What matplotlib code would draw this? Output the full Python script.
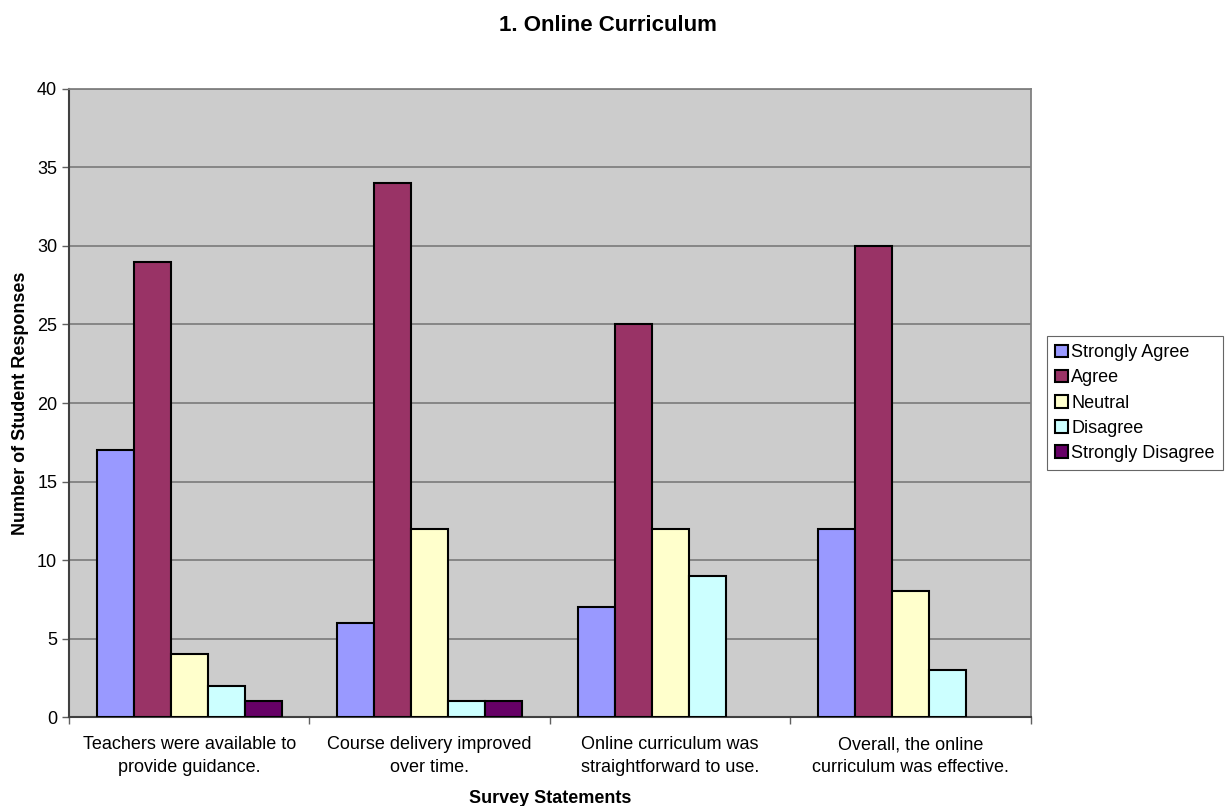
import numpy as np
import matplotlib.pyplot as plt

plt.rcParams['font.family'] = ['Liberation Sans', 'DejaVu Sans']

statements = ["Teachers were available to\nprovide guidance.",
              "Course delivery improved\nover time.",
              "Online curriculum was\nstraightforward to use.",
              "Overall, the online\ncurriculum was effective."]
responses = ["Strongly Agree", "Agree", "Neutral", "Disagree", "Strongly Disagree"]
strongly_agree = [17, 6, 7, 12]
agree = [29, 34, 25, 30]
neutral = [4, 12, 12, 8]
disagree = [2, 1, 9, 3]
strongly_disagree = [1, 1, 0, 0]
colors = ["#9999FF", "#993366", "#FFFFCC", "#CCFFFF", "#660066"]

series = [strongly_agree, agree, neutral, disagree, strongly_disagree]

fig = plt.figure(figsize=(12.25, 8.06), dpi=100)
ax = fig.add_axes([0.0563, 0.1104, 0.7853, 0.7792])
ax.set_facecolor("#CCCCCC")

x = np.arange(len(statements))
w = 0.154
for i, (vals, name, c) in enumerate(zip(series, responses, colors)):
    # no outline for empty bars
    lws = [1.5 if v > 0 else 0 for v in vals]
    ax.bar(x + (i - 2) * w, vals, w, color=c, edgecolor="black",
           linewidth=lws, label=name, zorder=3)

ax.set_xlim(-0.5, 3.5)
ax.set_ylim(0, 40)
ax.set_yticks(range(0, 41, 5))
ax.yaxis.grid(True, color="#808080", linewidth=1.3, zorder=0)
ax.set_axisbelow(True)

# category labels centred on groups, tick marks at the boundaries
ax.set_xticks(np.arange(-0.5, 4.0, 1.0))
ax.set_xticklabels([])
ax.set_xticks(x, minor=True)
ax.set_xticklabels(statements, minor=True, fontsize=13, linespacing=1.45)
ax.tick_params(axis="x", which="minor", length=0, pad=14)
ax.tick_params(axis="x", which="major", length=5, width=1, color="#606060")
ax.tick_params(axis="y", length=5, width=1, labelsize=13, color="#606060")

for s in ["top", "right"]:
    ax.spines[s].set_color("#808080")
    ax.spines[s].set_linewidth(1.3)
ax.spines["left"].set_color("#404040")
ax.spines["bottom"].set_color("#404040")
ax.spines["left"].set_linewidth(1.5)
ax.spines["bottom"].set_linewidth(1.5)

ax.set_xlabel("Survey Statements", fontsize=13, fontweight="bold", labelpad=10)
ax.set_ylabel("Number of Student Responses", fontsize=13, fontweight="bold", labelpad=6)
fig.suptitle("1. Online Curriculum", fontsize=16, fontweight="bold", x=0.496, y=0.982)

leg = ax.legend(loc="center left", bbox_to_anchor=(1.0166, 0.5), fontsize=13,
                frameon=True, fancybox=False, edgecolor="#404040",
                handlelength=0.7, handleheight=0.7, handletextpad=0.2,
                labelspacing=0.45, borderpad=0.45, borderaxespad=0)
leg.get_frame().set_linewidth(0.8)

fig.savefig("out.png", dpi=100)
